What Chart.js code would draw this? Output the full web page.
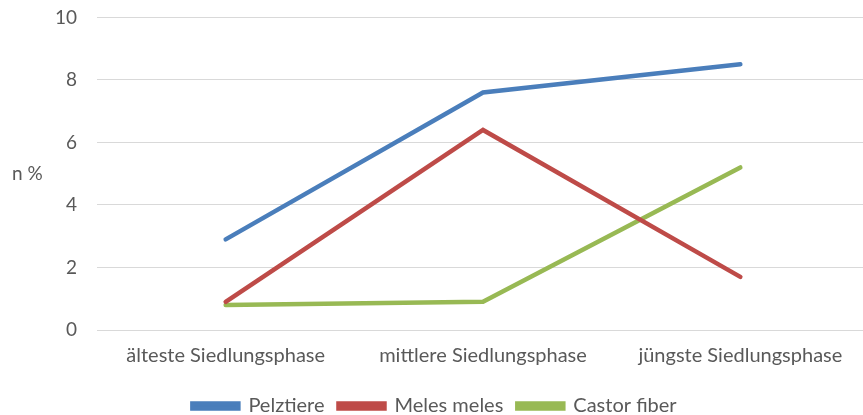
<!DOCTYPE html>
<html>
<head>
<meta charset="utf-8">
<script src="https://cdn.jsdelivr.net/npm/chart.js@4.4.1/dist/chart.umd.min.js"></script>
<style>
  html, body { margin: 0; padding: 0; background: #fff; overflow: hidden; }
  #wrap { width: 869px; height: 429px; margin-top: -14px; }
</style>
</head>
<body>
<div id="wrap"><canvas id="FirstChart"></canvas></div>
<script>
// Werte
const categories = ['älteste Siedlungsphase', 'mittlere Siedlungsphase', 'jüngste Siedlungsphase'];
const pelztiere = [2.9, 7.6, 8.5];
const melesMeles = [0.9, 6.4, 1.7];
const castorFiber = [0.8, 0.9, 5.2];
const yTicks = [0, 2, 4, 6, 8, 10];

const fontFamily = 'Lato, "Open Sans", sans-serif';
const textColor = '#595959';
const fontSize = 20;

// Achsentitel "n %" waagrecht links
const yTitle = {
  id: 'yTitle',
  afterDraw(chart) {
    const ctx = chart.ctx;
    const area = chart.chartArea;
    ctx.save();
    ctx.font = '19px ' + fontFamily;
    ctx.fillStyle = textColor;
    ctx.textAlign = 'left';
    ctx.textBaseline = 'middle';
    ctx.fillText('n %', 12, (area.top + area.bottom) / 2);
    ctx.restore();
  }
};

const ds = (label, data, color) => ({
  label: label,
  data: data,
  borderColor: color,
  backgroundColor: color,
  borderWidth: 4.5,
  pointRadius: 0,
  tension: 0,
  borderCapStyle: 'round'
});

let ctx = document.getElementById('FirstChart').getContext('2d');
let chart = new Chart(ctx, {
  type: 'line',
  data: {
    labels: categories,
    datasets: [
      ds('Pelztiere', pelztiere, '#4A7EBB'),
      ds('Meles meles', melesMeles, '#BE4B48'),
      ds('Castor fiber', castorFiber, '#98B954')
    ]
  },
  options: {
    responsive: true,
    maintainAspectRatio: false,
    animation: false,
    layout: { padding: { top: 0, right: 0, left: 0, bottom: -11 } },
    scales: {
      x: {
        offset: true,
        grid: { display: false, drawTicks: false },
        border: { display: false },
        ticks: { color: textColor, font: { family: fontFamily, size: fontSize }, padding: 14, maxRotation: 0 }
      },
      y: {
        min: 0,
        max: 10,
        afterFit(scale) { scale.width = 97; },
        afterBuildTicks(scale) { scale.ticks = yTicks.map(v => ({ value: v })); },
        grid: { color: '#d9d9d9', lineWidth: 1, drawTicks: false },
        border: { display: false },
        ticks: { color: textColor, font: { family: fontFamily, size: 19 }, padding: 20 }
      }
    },
    plugins: {
      legend: {
        position: 'bottom',
        labels: {
          color: textColor,
          font: { family: fontFamily, size: fontSize },
          boxWidth: 46,
          boxHeight: 5,
          padding: 14
        }
      },
      tooltip: { enabled: false }
    }
  },
  plugins: [yTitle]
});
</script>
</body>
</html>
